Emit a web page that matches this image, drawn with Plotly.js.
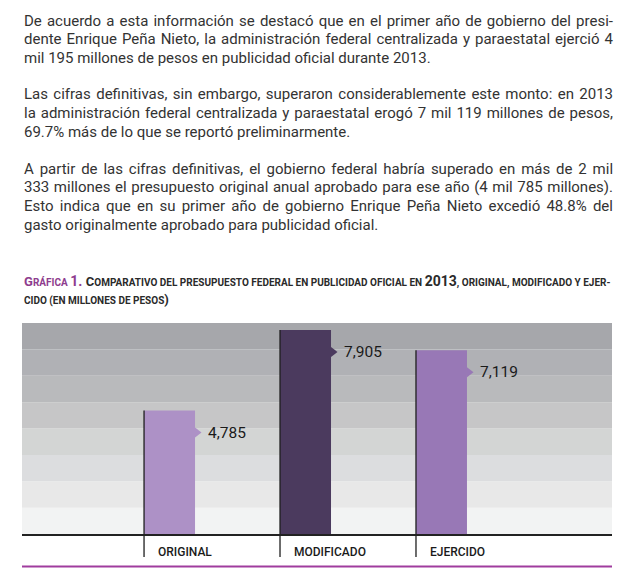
<!DOCTYPE html>
<html><head><meta charset="utf-8">
<script src="https://cdn.plot.ly/plotly-3.0.1.min.js"></script>
<style>body{margin:0;background:#fff}#chart{width:640px;height:574px}</style>
</head><body><div id="chart"></div>
<script>
// ---- data ----
const categories = ['ORIGINAL', 'MODIFICADO', 'EJERCIDO'];
const values = [4785, 7905, 7119];
const valueLabels = ['4,785', '7,905', '7,119'];
const bandCount = 8;

const paragraph1 = [
  'De acuerdo a esta información se destacó que en el primer año de gobierno del presi-',
  'dente Enrique Peña Nieto, la administración federal centralizada y paraestatal ejerció 4',
  'mil 195 millones de pesos en publicidad oficial durante 2013.'
];
const paragraph2 = [
  'Las cifras definitivas, sin embargo, superaron considerablemente este monto: en 2013',
  'la administración federal centralizada y paraestatal erogó 7 mil 119 millones de pesos,',
  '69.7% más de lo que se reportó preliminarmente.'
];
const paragraph3 = [
  'A partir de las cifras definitivas, el gobierno federal habría superado en más de 2 mil',
  '333 millones el presupuesto original anual aprobado para ese año (4 mil 785 millones).',
  'Esto indica que en su primer año de gobierno Enrique Peña Nieto excedió 48.8% del',
  'gasto originalmente aprobado para publicidad oficial.'
];
const titleLine1 = [['G', 'big'], ['ráfica ', 'sc'], ['1. ', 'num'], ['C', 'big'], ['omparativo del presupuesto federal en publicidad oficial en ', 'sc'], ['2013', 'num'], [', original, modificado y ejer-', 'sc']];
const titleLine2 = [['cido (', 'sc'], ['en millones de pesos', 'sc'], [')', 'big']];

// ---- styles ----
const barColors = ['#ad91c6', '#4b3a5e', '#9878b6'];
const bandColors = ['#f2f3f3', '#e8e8e8', '#dcdddf', '#d3d5d4', '#c6c6c7', '#b9babc', '#b0b1b5', '#a6a7ab'];
const FONT = 'Roboto';
const TEXTC = '#333333';

const L = 22, R = 612, TOP = 323, BOT = 534;
const W = R - L, H = BOT - TOP;
const yRangeMax = 8180;
const barWidth = 0.375;
const py = p => (BOT - p) / H;

const cv = document.createElement('canvas').getContext('2d');
function measure(text, size, weight) {
  cv.font = (weight || 'normal') + ' ' + size + 'px ' + FONT;
  return cv.measureText(text).width;
}
function justifyLine(text, size, target) {
  const w = measure(text, size);
  const spaces = (text.match(/ /g) || []).length;
  const ws = spaces ? (target - w) / spaces : 0;
  return '<span style="word-spacing:' + ws.toFixed(2) + 'px">' + text + '</span>';
}

const annotations = [];
function textAnn(text, yc, size, extra) {
  annotations.push(Object.assign({
    xref: 'paper', yref: 'paper', x: 0, y: py(yc), xanchor: 'left', yanchor: 'middle',
    text: text, showarrow: false, align: 'left',
    font: {family: FONT, size: size, color: TEXTC}
  }, extra || {}));
}
const PS = 15;
const paraY = [[20.5, 39.2, 57.9], [94.5, 113.2, 131.9], [168.5, 187.2, 205.9, 224.6]];
[paragraph1, paragraph2, paragraph3].forEach((par, pi) => {
  par.forEach((line, li) => {
    const last = li === par.length - 1;
    textAnn(last ? line : justifyLine(line, PS, W - 1), paraY[pi][li], PS);
  });
});

// title with fake small caps
const sizes = {big: 13, sc: 10, num: 14};
function titleText(parts, target, purpleCount) {
  let width = 0, spaces = 0;
  const segs = parts.map(([t, k]) => {
    const s = k === 'sc' ? t.toUpperCase() : t;
    width += measure(s, sizes[k], 'bold');
    spaces += (s.match(/ /g) || []).length;
    return [s, k];
  });
  const ws = target ? Math.max(0, (target - width) / spaces) : 0;
  return segs.map(([s, k], i) => {
    const col = i < purpleCount ? 'color:#8e3d8e;' : '';
    return '<span style="' + col + 'font-size:' + sizes[k] + 'px;word-spacing:' + ws.toFixed(2) + 'px">' + s + '</span>';
  }).join('');
}
annotations.push({xref: 'paper', yref: 'paper', x: 0, y: py(281), xanchor: 'left', yanchor: 'middle',
  text: '<b>' + titleText(titleLine1, 586, 3) + '</b>', showarrow: false,
  font: {family: FONT, size: 13, color: '#2a2a2a'}});
annotations.push({xref: 'paper', yref: 'paper', x: 0, y: py(299), xanchor: 'left', yanchor: 'middle',
  text: '<b>' + titleText(titleLine2, 0, 0) + '</b>', showarrow: false,
  font: {family: FONT, size: 13, color: '#2a2a2a'}});

// value labels and category labels
categories.forEach((c, i) => {
  annotations.push({xref: 'x', yref: 'y', x: i, y: values[i], xanchor: 'left', yanchor: 'middle',
    xshift: 25.5 + 11, yshift: -22, text: valueLabels[i], showarrow: false,
    font: {family: FONT, size: 15.5, color: '#1a1a1a'}});
  annotations.push({xref: 'x', yref: 'paper', x: i, y: py(552), xanchor: 'left', yanchor: 'middle',
    xshift: -25.5 + 12, text: c, showarrow: false,
    font: {family: FONT, size: 12, color: '#1a1a1a', weight: 500}});
});

const shapes = [];
for (let b = 0; b < bandCount; b++) {
  shapes.push({type: 'rect', xref: 'paper', yref: 'paper', x0: 0, x1: 1, y0: b / bandCount, y1: (b + 1) / bandCount,
    fillcolor: bandColors[b], line: {width: 0}, layer: 'below'});
}
categories.forEach((c, i) => {
  shapes.push({type: 'path', xref: 'x', yref: 'y', xsizemode: 'pixel', ysizemode: 'pixel',
    xanchor: i, yanchor: values[i], path: 'M 25.5 -17 L 32 -22 L 25.5 -27 Z',
    fillcolor: barColors[i], line: {width: 0}, layer: 'above'});
  shapes.push({type: 'line', xref: 'x', yref: 'paper', x0: i - barWidth / 2, x1: i - barWidth / 2,
    y0: py(557), y1: values[i] / yRangeMax, line: {color: '#1e1e1e', width: 1.3}, layer: 'above'});
});
shapes.push({type: 'line', xref: 'paper', yref: 'paper', x0: 0, x1: 1, y0: py(535), y1: py(535),
  line: {color: '#222', width: 2}, layer: 'above'});
shapes.push({type: 'line', xref: 'paper', yref: 'paper', x0: 0, x1: 1, y0: py(566.5), y1: py(566.5),
  line: {color: '#a03c9e', width: 2}, layer: 'above'});

const trace = {type: 'bar', x: categories, y: values, width: barWidth,
  marker: {color: barColors, line: {width: 0}}, hoverinfo: 'skip'};

Plotly.newPlot('chart', [trace], {
  width: 640, height: 574,
  margin: {l: L, r: 640 - R, t: TOP, b: 574 - BOT, pad: 0},
  paper_bgcolor: '#fff', plot_bgcolor: 'rgba(0,0,0,0)',
  showlegend: false,
  xaxis: {type: 'category', range: [-1.085, 3.254], showticklabels: false, showgrid: false, zeroline: false, showline: false, fixedrange: true},
  yaxis: {range: [0, yRangeMax], showticklabels: false, showgrid: false, zeroline: false, showline: false, fixedrange: true},
  shapes: shapes, annotations: annotations
}, {staticPlot: true});
</script></body></html>
